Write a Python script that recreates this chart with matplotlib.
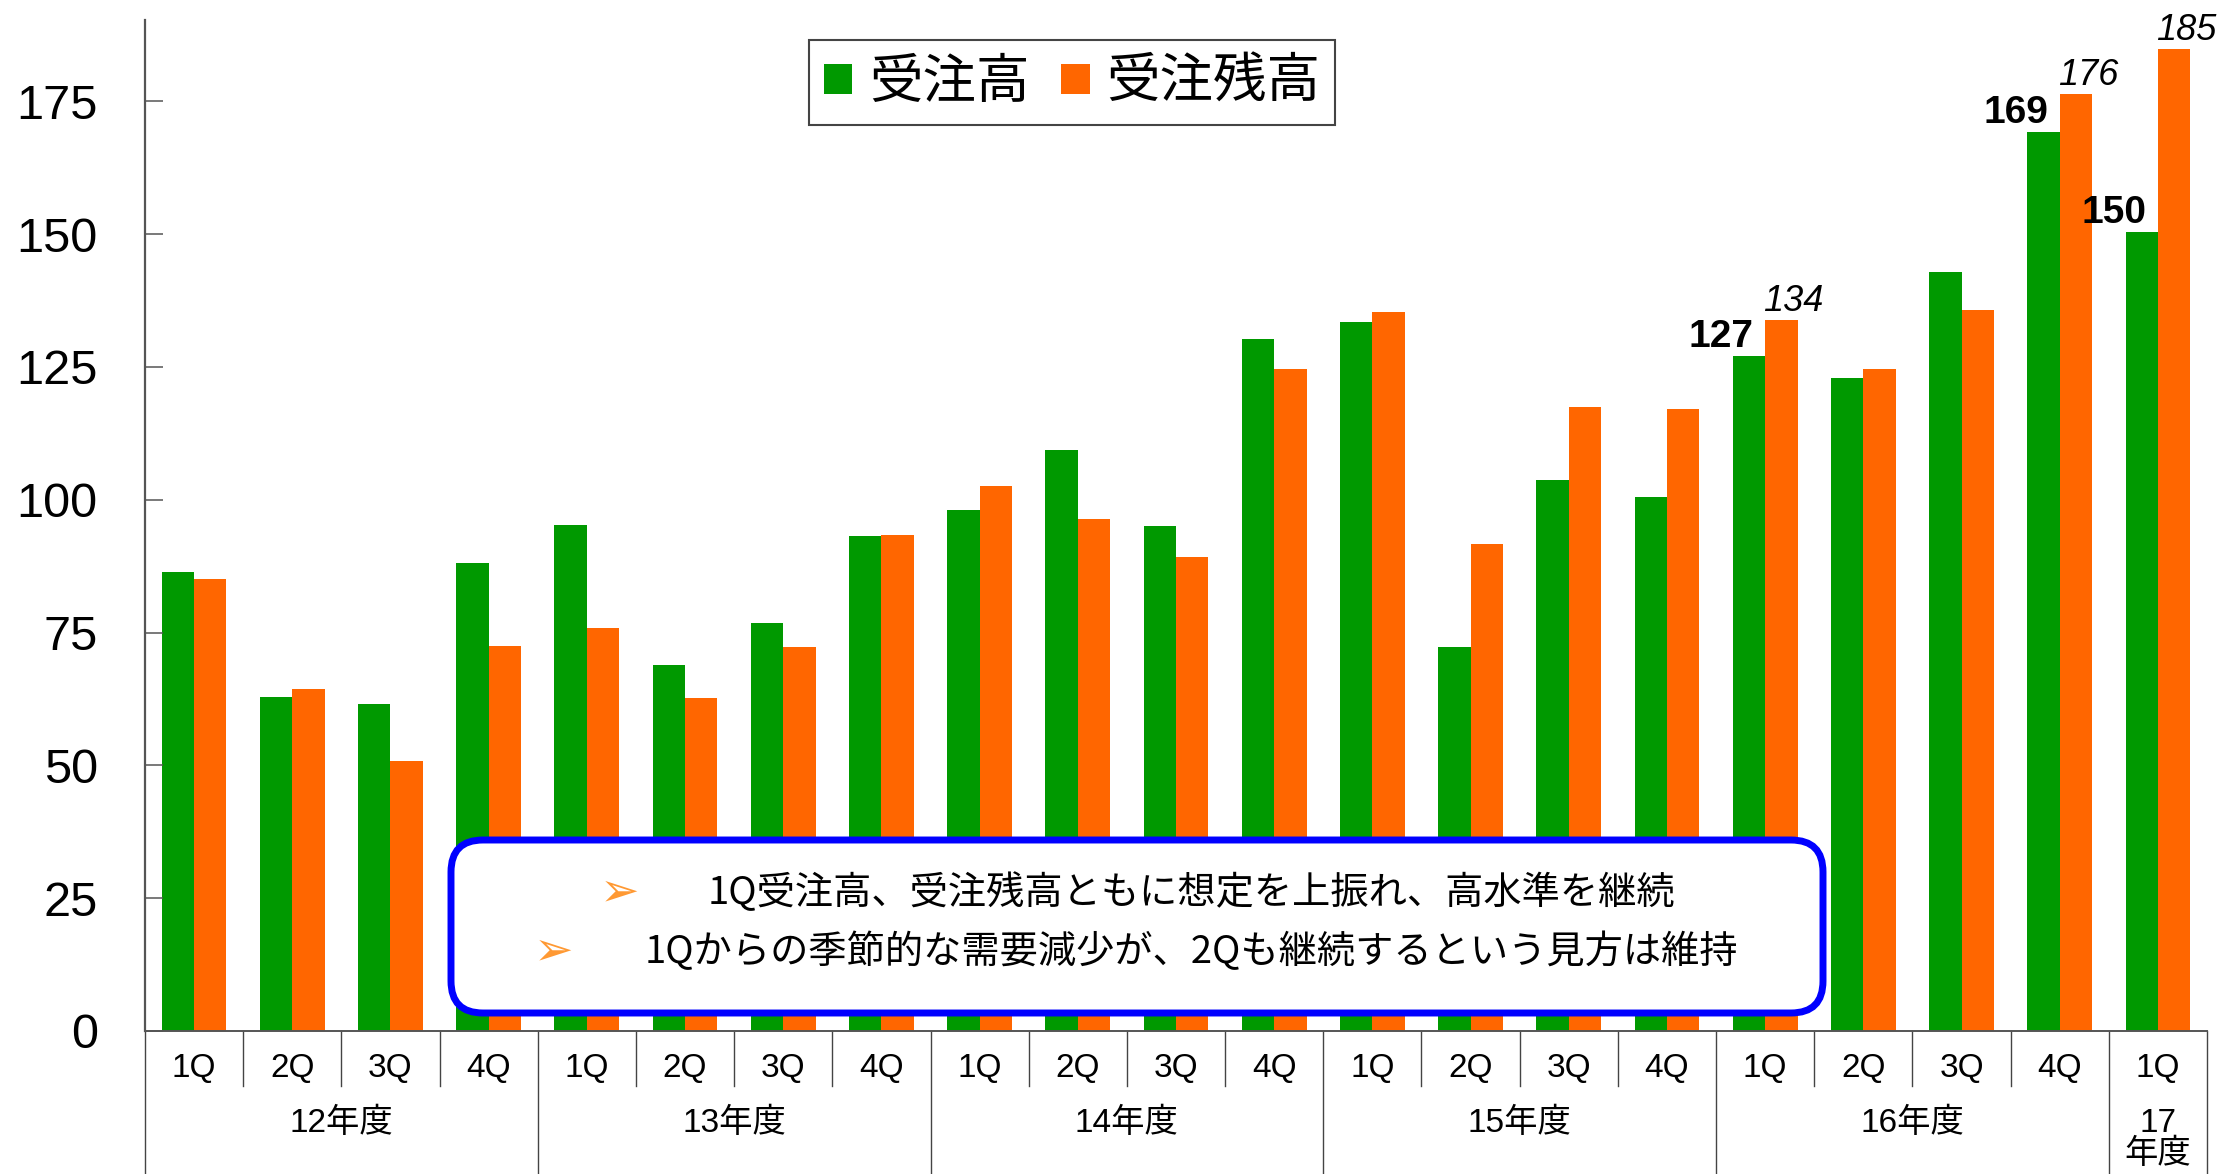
import matplotlib
matplotlib.use("Agg")
import matplotlib.pyplot as plt
from matplotlib.patches import Patch, FancyBboxPatch
from matplotlib.transforms import blended_transform_factory
import numpy as np

# data
quarters = ['1Q', '2Q', '3Q', '4Q'] * 5 + ['1Q']
years = ['12年度', '13年度', '14年度', '15年度', '16年度', '17\n年度']
year_sizes = [4, 4, 4, 4, 4, 1]
orders = [86.4, 62.9, 61.6, 88.1, 95.3, 68.8, 76.8, 93.2, 98.1, 109.4, 95.1,
          130.2, 133.5, 72.2, 103.8, 100.6, 127.1, 123.0, 142.8, 169.3, 150.4]
backlog = [85.1, 64.4, 50.8, 72.5, 75.8, 62.7, 72.2, 93.4, 102.5, 96.3, 89.3,
           124.6, 135.3, 91.7, 117.5, 117.1, 133.9, 124.6, 135.8, 176.4, 184.8]
labelled = [16, 19, 20]
notes = ['1Q受注高、受注残高ともに想定を上振れ、高水準を継続',
         '1Qからの季節的な需要減少が、2Qも継続するという見方は維持']

GREEN = '#009900'
ORANGE = '#FF6600'
LATIN = ['Liberation Sans', 'Noto Sans CJK JP']
CJK = ['Noto Sans CJK JP', 'DejaVu Sans']

W, H = 2223, 1174
fig = plt.figure(figsize=(W / 100, H / 100), dpi=100)
ax = fig.add_axes([145 / W, (H - 1031) / H, (2207 - 145) / W, (1031 - 20) / H])

x = np.arange(len(quarters))
bw = 0.33
ax.bar(x - bw / 2, orders, bw, color=GREEN, label='受注高')
ax.bar(x + bw / 2, backlog, bw, color=ORANGE, label='受注残高')

ax.set_xlim(-0.5, len(quarters) - 0.5)
ax.set_ylim(0, 190.3)
ax.set_yticks(range(0, 176, 25))
ax.set_xticks([])
ax.tick_params(axis='y', direction='in', length=12.7, width=1.1, color='#555555',
               pad=34, labelsize=35)
for lab in ax.get_yticklabels():
    lab.set_family(LATIN)
for s in ['top', 'right']:
    ax.spines[s].set_visible(False)
ax.spines['left'].set_color('#555555')
ax.spines['left'].set_linewidth(1.6)
ax.spines['bottom'].set_color('#555555')
ax.spines['bottom'].set_linewidth(1.4)

# value labels
for i in labelled:
    ax.annotate(f'{orders[i]:.0f}', (x[i] - bw / 2, orders[i]), xytext=(-28, 9),
                textcoords='offset pixels', ha='center', va='baseline',
                fontsize=28, fontweight='bold', family=LATIN)
    ax.annotate(f'{backlog[i]:.0f}', (x[i] + bw / 2, backlog[i]), xytext=(12, 9),
                textcoords='offset pixels', ha='center', va='baseline',
                fontsize=26, fontstyle='italic', family=LATIN)

# two-level category axis below the plot
tr = blended_transform_factory(ax.transData, ax.transAxes)
for i, q in enumerate(quarters):
    ax.text(x[i], -0.0366, q, transform=tr, ha='center', va='center',
            fontsize=24, family=LATIN)
bounds = np.concatenate([[0], np.cumsum(year_sizes)]) - 0.5
for b in np.arange(0.5, len(quarters) - 1):
    if b not in bounds:
        ax.plot([b, b], [0, -0.0544], transform=tr, color='#444444', lw=1.0, clip_on=False)
for b in bounds:
    ax.plot([b, b], [0, -0.16], transform=tr, color='#444444', lw=1.0, clip_on=False)
for k, yl in enumerate(years):
    cx = (bounds[k] + bounds[k + 1]) / 2
    ax.text(cx, -0.0762, yl, transform=tr, ha='center', va='top',
            fontsize=24, family=LATIN, linespacing=1.0)

handles = [Patch(facecolor=GREEN, label='受注高'), Patch(facecolor=ORANGE, label='受注残高')]
leg = ax.legend(handles=handles, loc='upper left', ncols=2,
                bbox_to_anchor=(809 / W, 1 - 40 / H), bbox_transform=fig.transFigure,
                borderaxespad=0, prop={'family': CJK, 'size': 38.5},
                handlelength=0.53, handleheight=0.47, handletextpad=0.31,
                columnspacing=0.6, borderpad=0.28, fancybox=False, framealpha=1)
leg.get_frame().set_edgecolor('#444444')
leg.get_frame().set_linewidth(1.5)

# comment box
box = FancyBboxPatch((4.51, (H - 1013) / 100), 13.72, 1.73,
                     boxstyle='round,pad=0,rounding_size=0.32',
                     transform=fig.dpi_scale_trans, facecolor='white',
                     edgecolor='#0000FF', linewidth=5, zorder=5)
fig.patches.append(box)
rows = [(620, 708, 893), (554, 645, 952)]
for (ax_x, tx, ty), note in zip(rows, notes):
    fig.text(ax_x / W, 1 - ty / H, '➢', ha='center', va='center', fontsize=34,
             color='#FF9933', family='DejaVu Sans', zorder=6)
    fig.text(tx / W, 1 - ty / H, note, ha='left', va='center', fontsize=27.5,
             family=CJK, zorder=6)

fig.savefig('out.png', dpi=100)
